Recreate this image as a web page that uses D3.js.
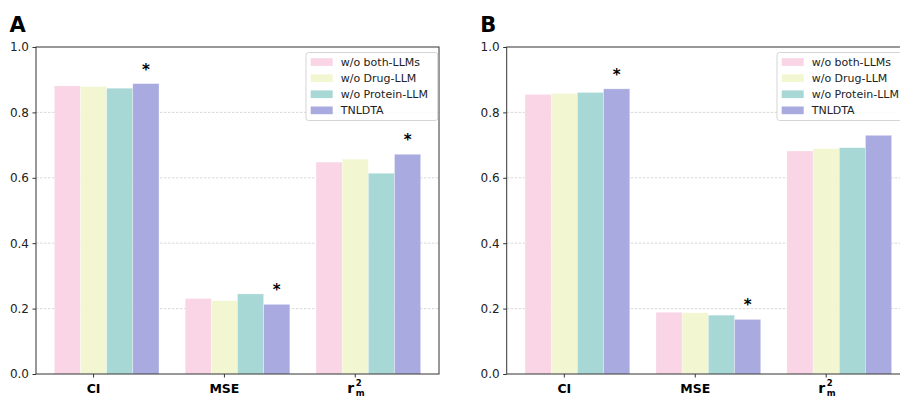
<!DOCTYPE html>
<meta charset="utf-8">
<style>
  body { margin: 0; background: #fff; }
  svg { font-family: "DejaVu Sans", sans-serif; }
</style>
<svg width="900" height="397"></svg>
<script src="https://d3js.org/d3.v7.min.js"></script>
<script>

var categories = ["CI", "MSE", "rm2"];
var seriesNames = ["w/o both-LLMs", "w/o Drug-LLM", "w/o Protein-LLM", "TNLDTA"];
var colors = ["#f9d5e6", "#f2f7d1", "#a8d8d6", "#a8aae0"];

// panel A values, one array per series (CI, MSE, r_m^2)
var bothA    = [0.881, 0.231, 0.648];
var drugA    = [0.879, 0.224, 0.657];
var proteinA = [0.874, 0.245, 0.614];
var tnldtaA  = [0.888, 0.213, 0.672];
var starsA   = [true, true, true];

// panel B
var bothB    = [0.855, 0.189, 0.682];
var drugB    = [0.858, 0.187, 0.689];
var proteinB = [0.861, 0.180, 0.692];
var tnldtaB  = [0.872, 0.167, 0.730];
var starsB   = [true, true, false];

var yTicks = [0.0, 0.2, 0.4, 0.6, 0.8, 1.0];

var svg = d3.select("svg");

var y = d3.scaleLinear().domain([0, 1]).range([374, 47]);
var barW = 0.2;

function drawPanel(label, left, right, series, stars) {
  var x = d3.scaleLinear().domain([-0.24, 2.84]).range([left, right]);
  var g = svg.append("g");

  // grid
  g.selectAll(".grid").data([0.2, 0.4, 0.6, 0.8]).enter()
    .append("line")
    .attr("x1", left).attr("x2", right)
    .attr("y1", function(d) { return y(d); })
    .attr("y2", function(d) { return y(d); })
    .attr("stroke", "#cfcfcf")
    .attr("stroke-width", 0.8)
    .attr("stroke-dasharray", "2.5,1.5");

  // bars
  series.forEach(function(vals, j) {
    g.selectAll(".bar" + j).data(vals).enter()
      .append("rect")
      .attr("x", function(d, i) { return x(i + j * barW - barW / 2); })
      .attr("width", x(barW) - x(0))
      .attr("y", function(d) { return y(d); })
      .attr("height", function(d) { return y(0) - y(d); })
      .attr("fill", colors[j])
      .attr("stroke", "#ffffff")
      .attr("stroke-opacity", 0.5)
      .attr("stroke-width", 0.6);
  });

  // stars above TNLDTA bars
  var last = series[series.length - 1];
  last.forEach(function(d, i) {
    if (!stars[i]) return;
    g.append("text")
      .attr("x", x(i + 3 * barW))
      .attr("y", y(d) - 9)
      .attr("text-anchor", "middle")
      .style("font-size", "15px")
      .style("font-weight", "bold")
      .text("*");
  });

  // frame
  g.append("rect")
    .attr("x", left).attr("y", y(1))
    .attr("width", right - left).attr("height", y(0) - y(1))
    .attr("fill", "none")
    .attr("stroke", "#333")
    .attr("stroke-width", 1);

  // y axis
  var yAxis = d3.axisLeft(y).tickValues(yTicks).tickFormat(d3.format(".1f"))
    .tickSize(3.5).tickPadding(3.5);
  var ya = g.append("g").attr("transform", "translate(" + left + ",0)").call(yAxis);
  ya.select(".domain").remove();
  ya.selectAll("text").style("font-size", "12px").style("font-family", "DejaVu Sans").attr("fill", "#222");
  ya.selectAll("line").attr("stroke", "#333");

  // x axis ticks
  var xa = g.append("g").attr("transform", "translate(0," + y(0) + ")");
  categories.forEach(function(c, i) {
    var cx = x(i + barW);
    xa.append("line").attr("x1", cx).attr("x2", cx).attr("y1", 0).attr("y2", 3.5)
      .attr("stroke", "#333");
    if (c === "rm2") {
      // r with superscript 2 and subscript m stacked
      var t = xa.append("text").attr("x", cx - 8).attr("y", 19)
        .style("font-weight", "bold");
      t.append("tspan").style("font-size", "14px").text("r");
      t.append("tspan").attr("x", cx + 0.5).attr("y", 11.5)
        .style("font-size", "8.5px").text("2");
      t.append("tspan").attr("x", cx + 0.5).attr("y", 21.5)
        .style("font-size", "8.5px").text("m");
    } else {
      xa.append("text").attr("x", cx).attr("y", 18.7).attr("text-anchor", "middle")
        .style("font-size", "12.5px").style("font-weight", "bold").text(c);
    }
  });

  // legend
  var lx = right - 133, ly = 52.5;
  var lg = g.append("g").attr("transform", "translate(" + lx + "," + ly + ")");
  lg.append("rect").attr("width", 131.7).attr("height", 68).attr("rx", 2.5)
    .attr("fill", "#fff").attr("fill-opacity", 0.85)
    .attr("stroke", "#d0d0d0").attr("stroke-width", 0.9);
  seriesNames.forEach(function(s, j) {
    var cy = 9.5 + j * 16.1;
    lg.append("rect").attr("x", 4.7).attr("y", cy - 3.8).attr("width", 22).attr("height", 7.7)
      .attr("fill", colors[j]);
    lg.append("text").attr("x", 34.7).attr("y", cy + 4)
      .style("font-size", "11px").attr("fill", "#222").text(s);
  });

  // panel label
  svg.append("text").attr("x", left - 26.5).attr("y", 32)
    .style("font-size", "21px").style("font-weight", "bold").text(label);
}

drawPanel("A", 36, 439, [bothA, drugA, proteinA, tnldtaA], starsA);
drawPanel("B", 506.7, 910, [bothB, drugB, proteinB, tnldtaB], starsB);

</script>
